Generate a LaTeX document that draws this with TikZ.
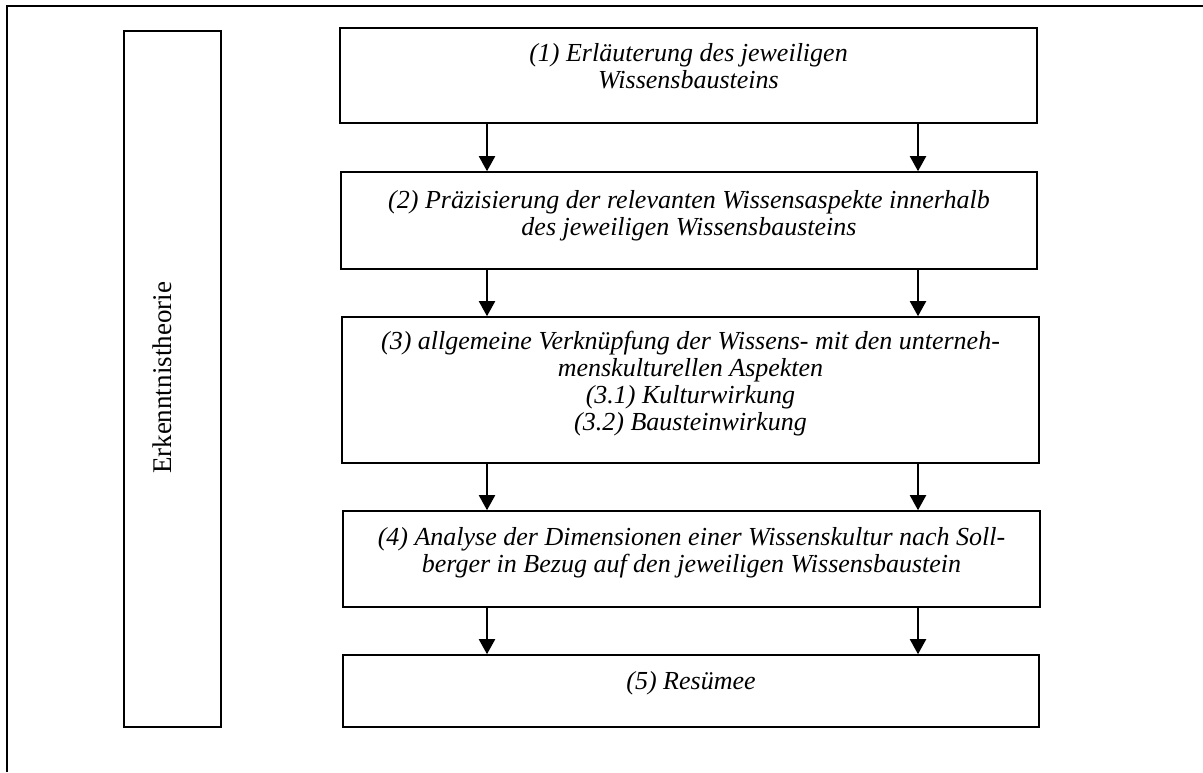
\documentclass[tikz,border=0pt]{standalone}
\usepackage{fontspec}
\setmainfont{Liberation Serif}
\usetikzlibrary{arrows.meta}
\begin{document}
\begin{tikzpicture}[x=1pt,y=-1pt,
  box/.style={draw=black, line width=1.6pt, rectangle, inner sep=0pt},
  steptext/.style={font=\fontsize{26}{27}\selectfont\itshape, align=center, inner sep=0pt},
  sidetext/.style={font=\fontsize{27}{30}\selectfont, rotate=90, inner sep=0pt},
  flow/.style={-{Triangle[length=15pt,width=16pt]}, line width=2pt}
]
\useasboundingbox (0,0) rectangle (1203,772);
% outer frame (top and left edges)
\draw[line width=2pt] (7,772) -- (7,6) -- (1203,6);

% side column
\node[box, minimum width=97pt, minimum height=696pt] (side) at (172.5,379) {};
\node[sidetext] (sidelabel) at (162,378) {Erkenntnistheorie};

% step boxes
\node[box, minimum width=697pt, minimum height=95pt]  (b1) at (688.5,75.5) {};
\node[box, minimum width=696pt, minimum height=97pt]  (b2) at (689,220.5) {};
\node[box, minimum width=697pt, minimum height=146pt] (b3) at (690.5,390) {};
\node[box, minimum width=697pt, minimum height=96pt]  (b4) at (691.5,559) {};
\node[box, minimum width=696pt, minimum height=72pt]  (b5) at (691,691) {};

% step texts
\node[steptext] (t1) at (688.5,66) {(1) Erläuterung des jeweiligen\\Wissensbausteins};
\node[steptext] (t2) at (689,215.5) {(2) Präzisierung der relevanten Wissensaspekte innerhalb\\des jeweiligen Wissensbausteins};
\node[steptext] (t3) at (690.5,384) {(3) allgemeine Verknüpfung der Wissens- mit den unterneh-\\menskulturellen Aspekten\\(3.1) Kulturwirkung\\(3.2) Bausteinwirkung};
\node[steptext] (t4) at (691.5,553) {(4) Analyse der Dimensionen einer Wissenskultur nach Soll-\\berger in Bezug auf den jeweiligen Wissensbaustein};
\node[steptext] (t5) at (691,683) {(5) Resümee};

% connectors
\coordinate (cl) at (487,0);
\coordinate (cr) at (918,0);
\foreach \a/\b in {b1/b2,b2/b3,b3/b4,b4/b5}{
  \draw[flow] (\a.south -| cl) -- (\b.north -| cl);
  \draw[flow] (\a.south -| cr) -- (\b.north -| cr);
}
\end{tikzpicture}
\end{document}
